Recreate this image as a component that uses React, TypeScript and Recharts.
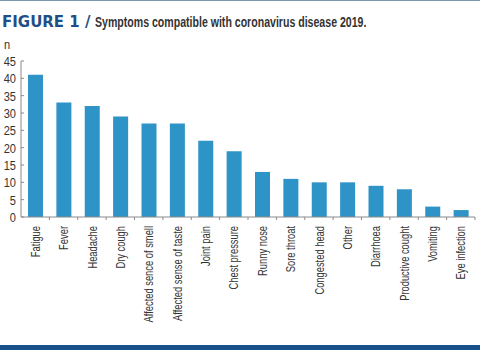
import React from 'react';
import { BarChart, Bar, XAxis, YAxis } from 'recharts';

const symptoms = [
  'Fatigue', 'Fever', 'Headache', 'Dry cough', 'Affected sence of smell',
  'Affected sense of taste', 'Joint pain', 'Chest pressure', 'Runny nose',
  'Sore throat', 'Congested head', 'Other', 'Diarrhoea', 'Productive cought',
  'Vomiting', 'Eye infection',
];
const counts = [41, 33, 32, 29, 27, 27, 22, 19, 13, 11, 10, 10, 9, 8, 3, 2];
const yTicks = [0, 5, 10, 15, 20, 25, 30, 35, 40, 45];

const data = symptoms.map((name, i) => ({ name, n: counts[i] }));

// no condensed face installed, so Liberation Sans gets squeezed with scaleX
const sans = "'Liberation Sans', Arial, sans-serif";
const axisColor = '#8a8a8a';
const textColor = '#333';
const band = 454 / symptoms.length;

// y ticks: label to the left, small tick pointing into the plot
const YTick = (props: any) => {
  const { x, y, payload } = props;
  return (
    <g>
      <line x1={x + 5} x2={x + 8} y1={y} y2={y} stroke={axisColor} />
      <text
        transform={`translate(${x}, ${y}) scale(0.82, 1)`}
        dy="0.36em"
        textAnchor="end"
        fill={textColor}
        fontSize={13.5}
        fontFamily={sans}
      >
        {payload.value}
      </text>
    </g>
  );
};

// x ticks: rotated label, tick mark at the category boundary
const XTick = (props: any) => {
  const { x, y, payload } = props;
  return (
    <g>
      <line x1={x + band / 2} x2={x + band / 2} y1={y - 9} y2={y - 6} stroke={axisColor} />
      <text
        transform={`translate(${x}, ${y}) rotate(-90) scale(0.72, 1)`}
        dy="0.36em"
        textAnchor="end"
        fill={textColor}
        fontSize={13}
        fontFamily={sans}
      >
        {payload.value}
      </text>
    </g>
  );
};

const App: React.FC = () => {
  return (
    <div style={{ position: 'absolute', left: 0, top: 0, width: 480, height: 350, background: '#fff', overflow: 'hidden' }}>
      <div style={{ position: 'absolute', left: 0, top: 0, width: 480, height: 1, background: '#7d97b5' }} />
      <div style={{ position: 'absolute', left: 2, top: 12, whiteSpace: 'nowrap', lineHeight: '20px' }}>
        <span style={{ fontFamily: "'DejaVu Sans', sans-serif", fontWeight: 'bold', fontSize: 15, color: '#1f4f86' }}>
          FIGURE 1 /
        </span>
      </div>
      <div
        style={{
          position: 'absolute',
          left: 95,
          top: 12,
          whiteSpace: 'nowrap',
          lineHeight: '20px',
          fontFamily: sans,
          fontWeight: 'bold',
          fontSize: 14,
          color: textColor,
          transform: 'scaleX(0.755)',
          transformOrigin: 'left center',
        }}
      >
        Symptoms compatible with coronavirus disease 2019.
      </div>
      <div
        style={{
          position: 'absolute',
          left: 4,
          top: 37,
          fontFamily: sans,
          fontSize: 13.5,
          color: textColor,
          transform: 'scaleX(0.82)',
          transformOrigin: 'left center',
        }}
      >
        n
      </div>
      <BarChart
        width={480}
        height={350}
        data={data}
        margin={{ top: 61, right: 5, bottom: 8, left: 0 }}
      >
        <XAxis
          dataKey="name"
          interval={0}
          height={125}
          tickLine={false}
          tickSize={0}
          tickMargin={9}
          stroke={axisColor}
          tick={<XTick />}
        />
        <YAxis
          width={21}
          domain={[0, 45]}
          ticks={yTicks}
          interval={0}
          tickLine={false}
          tickSize={0}
          tickMargin={5}
          stroke={axisColor}
          tick={<YTick />}
        />
        <Bar dataKey="n" fill="#2e93c6" barSize={15} isAnimationActive={false} />
      </BarChart>
      <div style={{ position: 'absolute', left: 0, top: 345, width: 480, height: 5, background: '#17508a' }} />
    </div>
  );
};

export default App;
